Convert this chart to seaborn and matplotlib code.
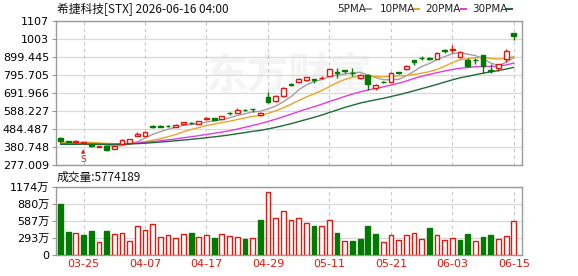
import numpy as np
import pandas as pd
import matplotlib
matplotlib.use("Agg")
import matplotlib.pyplot as plt
import seaborn as sns

# ---------------- data ----------------
dates = ["03-20", "03-23", "03-24", "03-25", "03-26", "03-27", "03-30", "03-31", "04-01", "04-02",
         "04-06", "04-07", "04-08", "04-09", "04-10", "04-13", "04-14", "04-15", "04-16", "04-17",
         "04-20", "04-21", "04-22", "04-23", "04-24", "04-27", "04-28", "04-29", "04-30", "05-01",
         "05-04", "05-05", "05-06", "05-07", "05-08", "05-11", "05-12", "05-13", "05-14", "05-15",
         "05-18", "05-19", "05-20", "05-21", "05-22", "05-26", "05-27", "05-28", "05-29", "06-01",
         "06-02", "06-03", "06-04", "06-05", "06-08", "06-09", "06-10", "06-11", "06-12", "06-15"]

opens = [434, 414, 408, 403, 396, 381, 384, 372, 400, 403,
         447, 446, 500, 501, 502, 497, 515, 520, 513, 540,
         546, 544, 577, 579, 596, 599, 566, 670, 647, 672,
         743, 758, 765, 772, 776, 792, 812, 824, 810, 777,
         798, 720, 758, 757, 811, 828, 880, 896, 894, 889,
         937, 940, 898, 884, 884, 910, 822, 836, 888, 1036]
highs = [438, 417, 419, 412, 398, 389, 388, 388, 426, 428,
         466, 470, 507, 506, 507, 512, 527, 524, 530, 552,
         549, 562, 581, 604, 601, 600, 580, 699, 682, 725,
         750, 778, 787, 773, 790, 835, 836, 826, 836, 800,
         800, 745, 762, 812, 815, 856, 885, 903, 900, 926,
         946, 966, 935, 895, 893, 912, 860, 862, 944, 1037]
lows = [410, 409, 405, 400, 381, 379, 355, 370, 398, 400,
        445, 444, 492, 494, 495, 495, 508, 512, 511, 536,
        536, 540, 568, 576, 588, 584, 557, 633, 640, 668,
        733, 755, 762, 750, 770, 790, 776, 805, 790, 770,
        712, 710, 750, 755, 803, 825, 852, 880, 882, 886,
        925, 925, 895, 840, 862, 808, 808, 820, 872, 998]
closes = [413, 412, 416, 409, 384, 386, 366, 385, 423, 426,
          455, 468, 497, 498, 499, 510, 525, 517, 528, 546,
          539, 557, 574, 596, 593, 597, 574, 643, 674, 720,
          740, 775, 784, 769, 781, 829, 808, 817, 806, 798,
          745, 738, 755, 805, 809, 845, 872, 893, 889, 923,
          934, 948, 927, 847, 881, 850, 818, 858, 935, 1022]
prev_close_first = 440

# volume in 万 (10k shares)
volumes = [867, 386, 369, 340, 408, 221, 408, 357, 374, 238,
           493, 425, 539, 300, 340, 283, 357, 380, 300, 340,
           283, 352, 323, 300, 272, 283, 595, 1088, 640, 748,
           595, 640, 555, 493, 493, 606, 380, 238, 238, 272,
           493, 357, 227, 340, 255, 340, 369, 272, 459, 340,
           255, 283, 255, 357, 238, 306, 340, 272, 323, 577]

ma5 = [404, 403, 404, 406, 406.8, 401.4, 392.2, 386, 388.8, 397.2,
       411, 431.4, 453.8, 468.8, 483.4, 494.4, 505.8, 509.8, 515.8, 525.2,
       531, 537.4, 548.8, 562.4, 571.8, 583.4, 586.8, 600.6, 616.2, 641.6,
       670.2, 710.4, 738.6, 757.6, 769.8, 787.6, 794.2, 800.8, 808.2, 811.6,
       794.8, 780.8, 768.4, 768.2, 770.4, 790.4, 817.2, 844.8, 861.6, 884.4,
       902.2, 917.4, 924.2, 915.8, 907.4, 890.6, 864.6, 850.8, 868.4, 896.6]
ma10 = [408, 408, 408, 408, 406, 404, 402, 400, 400, 402,
        406.2, 411.8, 419.9, 428.8, 440.3, 452.7, 468.6, 481.8, 492.3, 504.3,
        512.7, 521.6, 529.3, 539.1, 548.5, 557.2, 562.1, 574.7, 589.3, 606.7,
        626.8, 648.6, 669.6, 686.9, 705.7, 728.9, 752.3, 769.7, 782.9, 790.7,
        791.2, 787.5, 784.6, 788.2, 791.0, 792.6, 799.0, 806.6, 814.9, 827.4,
        846.3, 867.3, 884.5, 888.7, 895.9, 896.4, 891.0, 887.5, 892.1, 902.0]
ma20 = [400, 400, 400, 400, 399, 399, 398, 399, 400, 401,
        404, 407, 412, 417, 422, 427, 434, 440, 446, 453.2,
        459.5, 466.7, 474.6, 484.0, 494.4, 505.0, 515.4, 528.3, 540.8, 555.5,
        569.8, 585.1, 599.5, 613.0, 627.1, 643.1, 657.2, 672.2, 686.1, 698.7,
        709.0, 718.1, 727.1, 737.6, 748.4, 760.8, 775.7, 788.2, 798.9, 809.1,
        818.8, 827.4, 834.6, 838.5, 843.5, 844.5, 845.0, 847.1, 853.5, 864.7]
ma30 = [396, 396, 396, 397, 396, 396, 395, 395, 396, 398,
        400.1, 402.5, 405.9, 409.3, 412.8, 416.6, 420.9, 425.0, 429.4, 434.4,
        439.2, 444.6, 450.6, 457.3, 463.9, 470.6, 476.5, 484.8, 494.1, 504.3,
        515.2, 527.3, 539.6, 551.6, 564.8, 579.6, 594.3, 608.7, 621.5, 633.9,
        643.6, 652.6, 661.2, 671.4, 681.7, 692.9, 704.5, 717.0, 729.0, 741.6,
        754.8, 767.8, 779.6, 787.9, 797.5, 806.0, 814.1, 821.3, 830.0, 840.0]

price_ticks = [277.009, 380.748, 484.487, 588.227, 691.966, 795.705, 899.445, 1003, 1107]
price_tick_labels = ["277.009", "380.748", "484.487", "588.227", "691.966", "795.705", "899.445", "1003", "1107"]
vol_ticks = [0, 293.5, 587, 880.5, 1174]
vol_tick_labels = ["0", "293万", "587万", "880万", "1174万"]
date_ticks = ["03-25", "04-07", "04-17", "04-29", "05-11", "05-21", "06-03", "06-15"]
ma_names = ["5PMA", "10PMA", "20PMA", "30PMA"]

title = "希捷科技[STX] 2026-06-16 04:00"
vol_title = "成交量:5774189"

# ---------------- style ----------------
sns.set_style("white")
plt.rcParams["font.family"] = ["DejaVu Sans", "Noto Sans CJK SC"]
CJK = ["Noto Sans CJK SC", "DejaVu Sans"]

RED = "#e3170d"
GREEN = "#007a00"
GRID = "#d9d9d9"
SPINE = "#9a9a9a"
ma_colors = ["#a0a0a0", "#e8a628", "#e33be3", "#1d6b3c"]

W, H = 578, 276
fig = plt.figure(figsize=(W / 100, H / 100), dpi=100)
fig.patch.set_facecolor("white")

def fx(px):
    return px / W

def fy(py):
    return 1 - py / H

ax = fig.add_axes([fx(55.5), fy(165), fx(522.3) - fx(55.5), fy(21) - fy(165)])
axv = fig.add_axes([fx(55.5), fy(255), fx(522.3) - fx(55.5), fy(186.5) - fy(255)])

n = len(dates)
x = np.arange(n)
tick_pos = [dates.index(d) for d in date_ticks]

# ---------------- price panel ----------------
ma_df = pd.DataFrame({"x": np.tile(x, 4),
                      "v": ma5 + ma10 + ma20 + ma30,
                      "ma": np.repeat(ma_names, n)})
sns.lineplot(data=ma_df, x="x", y="v", hue="ma", palette=dict(zip(ma_names, ma_colors)),
             legend=False, ax=ax, linewidth=1.0, zorder=3)

bw = 0.62
for i in range(n):
    o, h, l, c = opens[i], highs[i], lows[i], closes[i]
    up = c >= o
    col = RED if up else GREEN
    top, bot = max(o, c), min(o, c)
    ax.plot([x[i], x[i]], [top, h], color=col, lw=1.0, zorder=4, solid_capstyle="butt")
    ax.plot([x[i], x[i]], [l, bot], color=col, lw=1.0, zorder=4, solid_capstyle="butt")
    ax.bar(x[i], max(top - bot, 0.01), bottom=bot, width=bw,
           facecolor="white" if up else GREEN, edgecolor=col, linewidth=1.0, zorder=5)

# split marker under 03-25
si = dates.index("03-25")
ax.text(x[si], 354, "▲", color=RED, fontsize=4, ha="center", va="center", zorder=6)
ax.text(x[si], 306, "S", color=RED, fontsize=6.5, ha="center", va="center", zorder=6)

# watermark
ax.text(0.5, 0.62, "东方财富", transform=ax.transAxes, fontsize=30, color="#f4f4f4",
        ha="center", va="center", family=CJK, fontweight="bold", zorder=0)

ax.set_xlim(-0.65, 60.1)
ax.set_ylim(price_ticks[0], price_ticks[-1])
ax.set_yticks(price_ticks)
ax.set_yticklabels(price_tick_labels)
ax.set_xticks(tick_pos)
ax.set_xticklabels([])
ax.set_xlabel("")
ax.set_ylabel("")

# ---------------- volume panel ----------------
prev = [prev_close_first] + closes[:-1]
for i in range(n):
    rising = closes[i] >= prev[i]
    if rising:
        axv.bar(x[i], volumes[i], width=bw, facecolor="white", edgecolor=RED, linewidth=1.0, zorder=3)
    else:
        axv.bar(x[i], volumes[i], width=bw, facecolor=GREEN, edgecolor=GREEN, linewidth=1.0, zorder=3)

axv.set_xlim(-0.65, 60.1)
axv.set_ylim(vol_ticks[0], vol_ticks[-1])
axv.set_yticks(vol_ticks)
axv.set_yticklabels(vol_tick_labels, family=["DejaVu Sans", "Noto Sans CJK SC"])
axv.set_xticks(tick_pos)
axv.set_xticklabels(date_ticks, color=RED)

for a in (ax, axv):
    a.set_facecolor("white")
    a.grid(False)
    for t in a.get_yticks():
        a.axhline(t, color=GRID, lw=0.9, zorder=0)
    for p in tick_pos:
        a.axvline(p, color="#c8c8c8", lw=0.8, ls=(0, (3, 3)), zorder=0)
    for s in ["top", "right", "left", "bottom"]:
        a.spines[s].set_visible(True)
        a.spines[s].set_color(SPINE)
        a.spines[s].set_linewidth(1.0)
    a.tick_params(axis="y", which="both", left=True, length=3, width=0.8, color=SPINE,
                  labelsize=8, pad=1.5, labelcolor="black")
    a.tick_params(axis="x", which="both", bottom=False, length=0, labelsize=8, pad=3)

# ---------------- texts ----------------
fig.text(fx(57), fy(9), title, fontsize=8.5, family=CJK, va="center", ha="left", color="#111111")
fig.text(fx(57), fy(177), vol_title, fontsize=8.5, family=CJK, va="center", ha="left", color="#111111")

leg_x = [337, 380, 425, 472]
mark_x = [365, 413, 460, 506]
for name, col, lx, mx in zip(ma_names, ma_colors, leg_x, mark_x):
    fig.text(fx(lx), fy(9), name, fontsize=7.5, va="center", ha="left", color="#222222")
    fig.patches.append(plt.Rectangle((fx(mx), fy(10.3)), fx(7), 2.6 / H, transform=fig.transFigure,
                                     facecolor=col, edgecolor="none"))

fig.savefig("out.png", dpi=100, facecolor="white")
